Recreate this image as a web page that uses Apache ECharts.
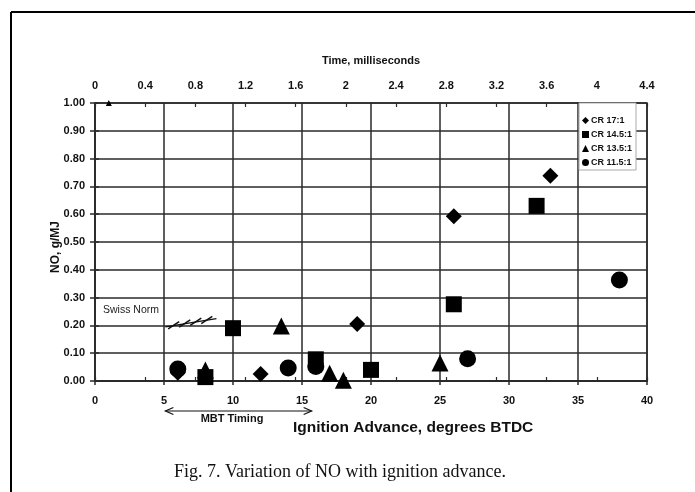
<!DOCTYPE html>
<html><head><meta charset="utf-8">
<script src="https://cdn.jsdelivr.net/npm/echarts@6/dist/echarts.min.js"></script>
<style>html,body{margin:0;padding:0;background:#fff}#c{width:695px;height:492px}</style>
</head><body><div id="c"></div>
<script>
// Ignition advance (degrees BTDC) and NO (g/MJ) per compression ratio
const cr17x = [6, 12, 19, 26, 33];
const cr17y = [0.03, 0.025, 0.205, 0.593, 0.738];
const cr145x = [8, 10, 16, 20, 26, 32];
const cr145y = [0.014, 0.19, 0.078, 0.04, 0.276, 0.63];
const cr135x = [8, 13.5, 17, 18, 25];
const cr135y = [0.04, 0.198, 0.028, 0.003, 0.065];
const cr115x = [6, 14, 16, 27, 38];
const cr115y = [0.043, 0.047, 0.052, 0.08, 0.363];
const strayX = [1];
const strayY = [1.0];
const seriesNames = ['CR 17:1', 'CR 14.5:1', 'CR 13.5:1', 'CR 11.5:1'];
const xTicks = [0, 40, 5];
const timeTicks = [0, 4.4, 0.4];
const yTicks = [0, 1, 0.1];
// Swiss Norm annotation (data coords)
const swissLine = [[5.1, 0.195], [8.8, 0.224]];
const swissHatchX = [5.7, 6.5, 7.3, 8.1];

const zip = (xs, ys) => xs.map((x, i) => [x, ys[i]]);
const chart = echarts.init(document.getElementById('c'), null, {renderer: 'canvas'});
const F = 'Liberation Sans, Arial, sans-serif';
const axisCol = '#2a2a2a';
const slope = (swissLine[1][1] - swissLine[0][1]) / (swissLine[1][0] - swissLine[0][0]);
const hatchSeries = swissHatchX.map(x => {
  const y = swissLine[0][1] + slope * (x - swissLine[0][0]);
  return {type: 'line', xAxisIndex: 0, yAxisIndex: 0, data: [[x - 0.4, y - 0.012], [x + 0.4, y + 0.014]],
    symbol: 'none', lineStyle: {color: '#111', width: 1.5}, silent: true, z: 3, clip: false};
});
const sc = (name, data, sym, size) => ({
  name, type: 'scatter', data, symbol: sym, symbolSize: size, clip: false,
  itemStyle: {color: '#000', opacity: 1}, z: 5
});
chart.setOption({
  animation: false,
  backgroundColor: '#fff',
  grid: {left: 95, right: 48, top: 103, bottom: 111, show: true, borderColor: axisCol, borderWidth: 1.5, backgroundColor: 'transparent'},
  legend: {
    data: seriesNames, orient: 'vertical', left: 579, top: 103, width: 58,
    itemWidth: 7, itemHeight: 7, itemGap: 5,
    backgroundColor: '#fff', borderColor: '#aaa', borderWidth: 1, padding: [13, 4, 3, 3],
    textStyle: {fontFamily: F, fontSize: 9, fontWeight: 'bold', color: '#111', padding: [0, 0, 0, -3]}
  },
  xAxis: [
    {type: 'value', position: 'bottom', min: xTicks[0], max: xTicks[1], interval: xTicks[2],
     axisLine: {lineStyle: {color: axisCol, width: 1.5}}, axisTick: {show: true, length: 4, lineStyle: {color: axisCol, width: 1.5}},
     splitLine: {show: true, lineStyle: {color: axisCol, width: 1.5}},
     axisLabel: {fontFamily: F, fontSize: 11, fontWeight: 'bold', color: '#111', margin: 14}},
    {type: 'value', position: 'top', min: timeTicks[0], max: timeTicks[1], interval: timeTicks[2],
     axisLine: {show: true, lineStyle: {color: axisCol, width: 1.5}}, axisTick: {show: true, length: 4, lineStyle: {color: axisCol, width: 1.2}},
     splitLine: {show: false},
     axisLabel: {fontFamily: F, fontSize: 11, fontWeight: 'bold', color: '#111', margin: 12,
       formatter: v => String(Math.round(v * 10) / 10)}},
    {type: 'value', position: 'top', min: timeTicks[0], max: timeTicks[1], interval: timeTicks[2],
     axisLine: {show: false}, axisTick: {show: true, inside: true, length: 4, lineStyle: {color: axisCol, width: 1.2}},
     splitLine: {show: false}, axisLabel: {show: false}}
  ],
  yAxis: [
    {type: 'value', min: yTicks[0], max: yTicks[1], interval: yTicks[2],
     axisLine: {show: true, lineStyle: {color: axisCol, width: 1.5}}, axisTick: {show: true, length: 5, lineStyle: {color: axisCol, width: 1.5}},
     splitLine: {show: true, lineStyle: {color: axisCol, width: 1.5}},
     axisLabel: {fontFamily: F, fontSize: 11, fontWeight: 'bold', color: '#111', margin: 10, formatter: v => v.toFixed(2)}},
    {type: 'value', min: yTicks[0], max: yTicks[1], interval: yTicks[2], position: 'left',
     axisLine: {show: false}, axisTick: {show: true, inside: true, length: 4, lineStyle: {color: axisCol, width: 1.5}},
     splitLine: {show: false}, axisLabel: {show: false}}
  ],
  series: [
    sc(seriesNames[0], zip(cr17x, cr17y), 'diamond', 16),
    sc(seriesNames[2], zip(cr135x, cr135y), 'triangle', 17),
    sc(seriesNames[3], zip(cr115x, cr115y), 'circle', 17),
    sc(seriesNames[1], zip(cr145x, cr145y), 'rect', 16),
    {name: 'stray', type: 'scatter', data: zip(strayX, strayY), symbol: 'triangle', symbolSize: 6, clip: false, itemStyle: {color: '#000', opacity: 1}, z: 6},
    {type: 'line', data: swissLine, symbol: 'none', lineStyle: {color: '#111', width: 1.3}, silent: true, z: 3},
    ...hatchSeries
  ]
});

function px(x, y) { return chart.convertToPixel({xAxisIndex: 0, yAxisIndex: 0}, [x, y]); }
const a = px(5.1, 0), b = px(15.7, 0);
const ay = 411;
chart.setOption({
  graphic: [
    {type: 'line', shape: {x1: 11, y1: 12, x2: 695, y2: 12}, style: {stroke: '#000', lineWidth: 2}},
    {type: 'line', shape: {x1: 11, y1: 12, x2: 11, y2: 492}, style: {stroke: '#000', lineWidth: 2}},
    {type: 'text', x: 371, y: 61, style: {text: 'Time, milliseconds', font: 'bold 11px ' + F, fill: '#111', textAlign: 'center', textVerticalAlign: 'middle'}},
    {type: 'text', x: 56, y: 247, rotation: Math.PI / 2, style: {text: 'NO, g/MJ', font: 'bold 12px ' + F, fill: '#111', textAlign: 'center', textVerticalAlign: 'middle'}},
    {type: 'text', x: 293, y: 428, style: {text: 'Ignition Advance, degrees BTDC', font: 'bold 15.5px ' + F, fill: '#111', textAlign: 'left', textVerticalAlign: 'middle'}},
    {type: 'text', x: 103, y: 310, style: {text: 'Swiss Norm', font: '10.5px ' + F, fill: '#222', textAlign: 'left', textVerticalAlign: 'middle'}},
    {type: 'text', x: 232, y: 419, style: {text: 'MBT Timing', font: 'bold 11px ' + F, fill: '#111', textAlign: 'center', textVerticalAlign: 'middle'}},
    {type: 'line', shape: {x1: a[0], y1: ay, x2: b[0], y2: ay}, style: {stroke: '#111', lineWidth: 1.2}},
    {type: 'polyline', shape: {points: [[a[0] + 8, ay - 3.5], [a[0], ay], [a[0] + 8, ay + 3.5]]}, style: {stroke: '#111', lineWidth: 1.2, fill: null}},
    {type: 'polyline', shape: {points: [[b[0] - 8, ay - 3.5], [b[0], ay], [b[0] - 8, ay + 3.5]]}, style: {stroke: '#111', lineWidth: 1.2, fill: null}},
    {type: 'text', x: 340, y: 472, style: {text: 'Fig. 7. Variation of NO with ignition advance.', font: '18px "Liberation Serif", "Times New Roman", serif', fill: '#111', textAlign: 'center', textVerticalAlign: 'middle'}}
  ]
});
</script></body></html>
